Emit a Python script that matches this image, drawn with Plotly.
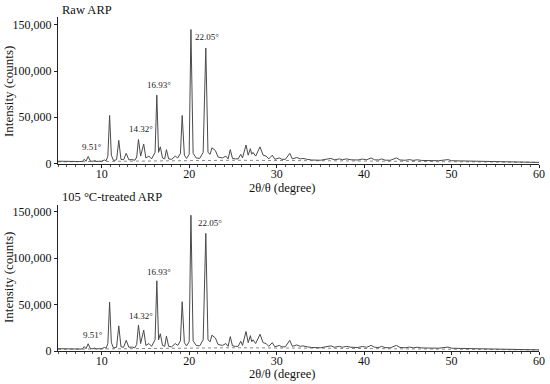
import plotly.graph_objects as go

# ---- data ----
two_theta = [5.0, 5.5, 6.0, 6.5, 7.0, 7.5, 7.8, 8.0, 8.2, 8.45, 8.7, 9.0, 9.2, 9.4, 10.0, 10.3, 10.5,
             10.7, 10.9, 11.1, 11.35, 11.7, 11.95, 12.2, 12.5, 12.8, 13.1, 13.5, 13.8, 14.0, 14.2, 14.45,
             14.8, 15.05, 15.4, 15.7, 16.1, 16.3, 16.5, 16.7, 16.95, 17.2, 17.4, 17.65, 18.0, 18.4, 18.7,
             19.0, 19.2, 19.45, 19.7, 20.0, 20.2, 20.45, 20.8, 21.2, 21.6, 21.9, 22.15, 22.4, 22.6, 23.0,
             23.3, 23.8, 24.2, 24.45, 24.7, 24.95, 25.3, 25.6, 25.9, 26.1, 26.5, 26.75, 27.0, 27.15, 27.3,
             27.6, 28.1, 28.45, 28.8, 29.1, 29.5, 29.8, 30.3, 30.6, 31.0, 31.5, 31.8, 32.3, 32.7, 33.0,
             33.5, 34.0, 35.0, 35.5, 36.2, 36.6, 37.2, 37.5, 38.0, 38.5, 39.3, 39.8, 40.3, 40.8, 41.2,
             41.7, 42.0, 42.4, 43.0, 43.7, 44.1, 44.7, 45.2, 45.6, 46.1, 46.6, 47.5, 48.5, 49.6, 50.0,
             51.0, 52.0, 53.0, 54.0, 55.0, 56.0, 57.0, 58.0, 59.0, 60.0]

raw_counts = [2500, 2300, 2200, 2100, 2000, 2100, 2300, 4600, 2400, 7600, 2600, 2400, 3200, 2300, 2500, 3800, 3000,
              8000, 52000, 9000, 3200, 4000, 25000, 4500, 4000, 11000, 4000, 4200, 3500, 7000, 26000, 8000,
              21000, 6000, 8000, 5000, 12000, 74000, 12000, 18000, 6000, 5000, 15000, 5000, 4500, 8000, 6000,
              11000, 52000, 9000, 5500, 10000, 145000, 11000, 6000, 5500, 12000, 125000, 12000, 10000, 17000, 14000,
              7000, 6000, 8000, 5000, 15000, 5500, 5000, 5000, 10000, 6000, 20000, 9000, 16000, 10000, 12000,
              8000, 18000, 9000, 8000, 5000, 9000, 4500, 6000, 4500, 4500, 11000, 5000, 6500, 5000, 5500,
              4500, 3800, 3500, 4000, 5500, 4000, 5000, 4000, 5000, 4000, 3800, 4800, 4000, 6000, 4000,
              3800, 5000, 3600, 3500, 6000, 3800, 3500, 4200, 3400, 4000, 3300, 3200, 3000, 4200, 3000,
              2800, 2700, 2300, 2000, 1800, 1700, 1500, 1400, 1300, 1200]

treated_counts = [2500, 2300, 2200, 2100, 2000, 2100, 2300, 4800, 2400, 7800, 2600, 2400, 3200, 2300, 2500, 3800, 3000,
                  8000, 52500, 9000, 3200, 4000, 27000, 4500, 4000, 11500, 4000, 4200, 3500, 7000, 28000, 8000,
                  22500, 6000, 8000, 5000, 12000, 75500, 12000, 18500, 6000, 5000, 16000, 5000, 4500, 8000, 6000,
                  11000, 53000, 9000, 5500, 10000, 146000, 11000, 6000, 5500, 12000, 126500, 12000, 10000, 17000, 14000,
                  7000, 6000, 8000, 5000, 15500, 5500, 5000, 5000, 10500, 6000, 21000, 9000, 16500, 10000, 12000,
                  8000, 18000, 9000, 8000, 5000, 9000, 4500, 6000, 4500, 4500, 11500, 5000, 6500, 5000, 5500,
                  4500, 3800, 3500, 4000, 5500, 4000, 5000, 4000, 5000, 4000, 3800, 4800, 4000, 6000, 4000,
                  3800, 5000, 3600, 3500, 6000, 3800, 3500, 4200, 3400, 4000, 3300, 3200, 3000, 4200, 3000,
                  2800, 2700, 2300, 2000, 1800, 1700, 1500, 1400, 1300, 1200]

baseline_theta = [5, 15, 25, 35, 45, 60]
baseline_counts = [1800, 3000, 3500, 3000, 2500, 1200]

peak_labels = ["9.51°", "14.32°", "16.93°", "22.05°"]
raw_label_pos = [(8.9, 17700), (14.45, 37200), (16.5, 85000), (22.0, 137000)]
treated_label_pos = [(9.0, 17200), (14.5, 37700), (16.5, 85400), (22.4, 138000)]

panel_titles = ["Raw ARP", "105 °C-treated ARP"]
x_title = "2θ/θ (degree)"
y_title = "Intensity (counts)"
y_ticks = [0, 50000, 100000, 150000]

FONT = "Liberation Serif"
W, H = 550, 384
LINE = "#4a4a4a"

fig = go.Figure()

for i, (counts, sfx) in enumerate([(raw_counts, ""), (treated_counts, "2")]):
    fig.add_trace(go.Scatter(x=baseline_theta, y=baseline_counts, mode="lines",
                             line=dict(color="#888888", width=1, dash="dot"),
                             xaxis="x" + sfx, yaxis="y" + sfx, showlegend=False, hoverinfo="skip"))
    fig.add_trace(go.Scatter(x=two_theta, y=counts, mode="lines",
                             line=dict(color=LINE, width=1),
                             xaxis="x" + sfx, yaxis="y" + sfx, showlegend=False))

xdom = [58 / W, 539 / W]
axis_common = dict(showgrid=False, zeroline=False, showline=True, linecolor="#222222", linewidth=1,
                   automargin=False, tickfont=dict(family=FONT, size=12, color="#111111"))
xaxis_common = dict(axis_common, range=[5, 60], tick0=0, dtick=10, ticks="outside", ticklen=3,
                    tickcolor="#222222", ticklabelstandoff=-4,
                    minor=dict(dtick=1, ticks="outside", ticklen=2, tickcolor="#555555"))
yaxis_common = dict(axis_common, tickvals=y_ticks, tickformat=",d", ticks="outside", ticklen=3,
                    tickcolor="#222222")

fig.update_layout(
    width=W, height=H, margin=dict(l=0, r=0, t=0, b=0, autoexpand=False),
    paper_bgcolor="white", plot_bgcolor="white",
    xaxis=dict(xaxis_common, domain=xdom, anchor="y"),
    yaxis=dict(yaxis_common, domain=[1 - 163.5 / H, 1 - 17 / H], range=[0, 158500], anchor="x"),
    xaxis2=dict(xaxis_common, domain=xdom, anchor="y2"),
    yaxis2=dict(yaxis_common, domain=[1 - 351 / H, 1 - 205 / H], range=[0, 157000], anchor="x2"),
)

ann = []
for lbl, (x, y) in zip(peak_labels, raw_label_pos):
    ann.append(dict(text=lbl, x=x, y=y, xref="x", yref="y", showarrow=False,
                    xanchor="center", yanchor="middle",
                    font=dict(family=FONT, size=9, color="#222222")))
for lbl, (x, y) in zip(peak_labels, treated_label_pos):
    ann.append(dict(text=lbl, x=x, y=y, xref="x2", yref="y2", showarrow=False,
                    xanchor="center", yanchor="middle",
                    font=dict(family=FONT, size=9, color="#222222")))
for t, py in zip(panel_titles, [10, 197]):
    ann.append(dict(text=t, x=60 / W, y=1 - py / H, xref="paper", yref="paper", xanchor="left",
                    yanchor="middle", showarrow=False, font=dict(family=FONT, size=12.5, color="#111111")))
for py in [188, 374]:
    ann.append(dict(text=x_title, x=282 / W, y=1 - py / H, xref="paper", yref="paper",
                    xanchor="center", yanchor="middle",
                    showarrow=False, font=dict(family=FONT, size=12.5, color="#111111")))
for py in [92, 278]:
    ann.append(dict(text=y_title, x=8 / W, y=1 - py / H, xref="paper", yref="paper", textangle=-90,
                    xanchor="center", yanchor="middle",
                    showarrow=False, font=dict(family=FONT, size=13, color="#111111")))
fig.update_layout(annotations=ann)

fig.write_html("out.html", config={"displayModeBar": False},
               post_script="document.body.style.margin='0';document.body.style.padding='0';")
